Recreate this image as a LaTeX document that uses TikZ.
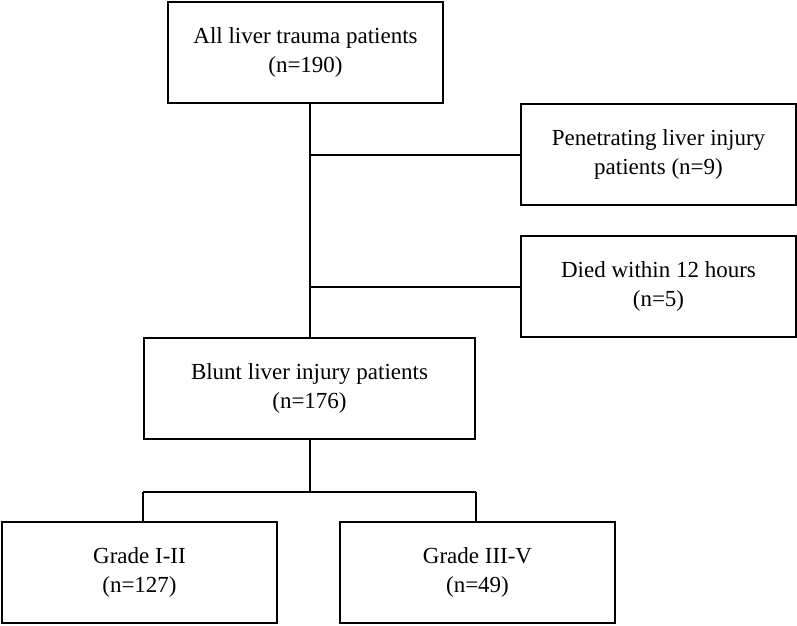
\documentclass[tikz,border=0pt]{standalone}
\usepackage{fontspec}
\setmainfont{Liberation Serif}
\usetikzlibrary{positioning}

\begin{document}
\begin{tikzpicture}[x=1pt, y=-1pt,
    box/.style={draw, line width=1.8pt, align=center, minimum width=275pt, minimum height=101pt,
        inner sep=0pt, font=\fontsize{23}{29}\selectfont},
    link/.style={line width=2pt}]
    \useasboundingbox (0,0) rectangle (797,625);

    \node[box] (all) at (305.5,52.5) {All liver trauma patients\\(n=190)};
    \node[box] (pen) at (658.5,154.5) {Penetrating liver injury\\patients (n=9)};
    \node[box] (died) at (658.5,286.5) {Died within 12 hours\\(n=5)};
    \node[box, minimum width=331pt] (blunt) at (309.5,388.5) {Blunt liver injury patients\\(n=176)};
    \node[box] (low) at (139.5,572.5) {Grade I-II\\(n=127)};
    \node[box] (high) at (477.5,572.5) {Grade III-V\\(n=49)};

    % exclusions
    \draw[link] (blunt.north |- all.south) -- (blunt.north);
    \draw[link] (blunt.north |- pen.west) -- (pen.west);
    \draw[link] (blunt.north |- died.west) -- (died.west);

    % split by grade
    \draw[link] (blunt.south) -- ++(0,52) coordinate (fork);
    \draw[link] (blunt.south west |- fork) -- (blunt.south east |- fork);
    \draw[link] (blunt.south west |- fork) -- (blunt.south west |- low.north);
    \draw[link] (blunt.south east |- fork) -- (blunt.south east |- high.north);
\end{tikzpicture}
\end{document}
